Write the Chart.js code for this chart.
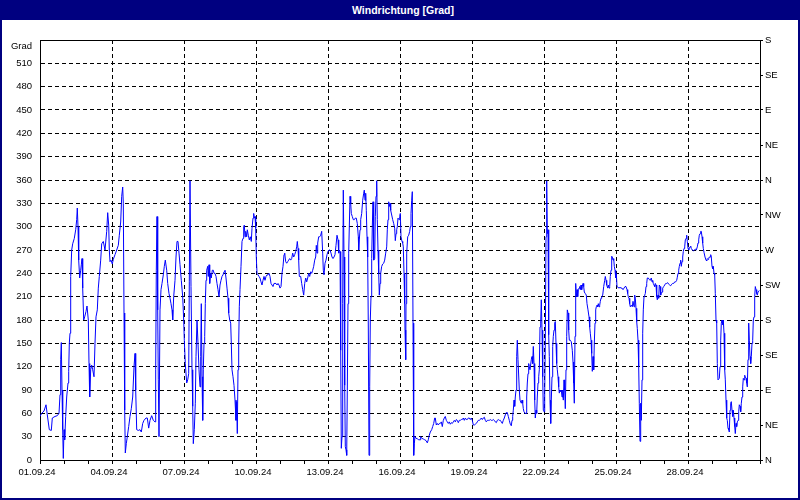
<!DOCTYPE html>
<html><head><meta charset="utf-8">
<script src="https://cdn.jsdelivr.net/npm/chart.js@4.4.1/dist/chart.umd.min.js"></script>
<style>
html,body{margin:0;padding:0;background:#fff;}
#wrap{position:relative;width:800px;height:500px;overflow:hidden;background:#fff;}
#title{position:absolute;left:0;top:0;width:800px;height:20px;box-sizing:border-box;padding-left:6px;background:#000080;color:#fff;font:bold 10.5px "Liberation Sans",Arial,sans-serif;text-align:center;line-height:20px;z-index:2;}
#frame{position:absolute;left:0;top:0;width:800px;height:500px;box-sizing:border-box;border:2px solid #000080;pointer-events:none;z-index:3;}
canvas{position:absolute;left:0;top:0;}
</style></head><body>
<div id="wrap"><canvas id="c" width="800" height="500"></canvas><div id="title">Windrichtung [Grad]</div><div id="frame"></div></div>
<script>
// hours since 01.09.24 00:00
const hours = [
0,1.7,4,6,7.3,9.3,11.3,12.3,15,17.3,
19,20,20.7,21.3,22,22.7,23.3,24,24.7,25.7,
26.7,28,28.7,29.3,30,30.7,31.7,32.7,34.3,35.7,
36.7,37.3,38,38.7,39.7,40.7,41.3,42,42.7,43.7,
44.7,46,47,48.3,49,49.7,50.7,51.7,52.7,54,
55,56,57.3,58.3,59.3,60.7,61.7,63.3,65,66.7,
67.7,68.7,69.3,70,71,72.3,73.3,75,76.7,78.3,
79.3,80.7,81.7,82.7,83.3,84,84.7,85.3,86.3,87.3,
88.7,90,91.3,92.7,94,95,95.7,96.7,98.3,100,
101.3,102.7,104,106,107.3,108.7,110,111.7,113.3,115,
115.7,116.3,117,117.7,118.3,119,120,121,122,123.3,
124.3,125.3,126.7,127.7,129,130,131,132,132.7,133.7,
135,136,137,138,139,140,141.3,142.7,143.7,144.3,
145.3,146.7,147.7,148.7,149.3,150,151,152,152.7,153.3,
154.3,155.3,156,157,158,159,160,
160.7,161.3,162,162.7,163.3,164,164.7,165.3,166,166.7,
167.7,168.3,169,169.7,170.7,171.3,172.3,173.3,174,175,
176,177,178,179,180,181,182,183,184,185,
186,187,188,188.7,189.7,190.7,191.3,192,193,194,
195,196,196.7,197.3,198,198.7,199.3,200,201,202,
203,203.7,204.3,205,205.7,206.7,207.3,208.3,209.3,210.3,
211.3,212,213,213.7,214.3,215,215.7,216.3,217,218,
219,220,221,222,223,224,225,226,227,228,
229,230,231,232,233,234,235,236,237,238,
239,240,241,242,243,244,244.7,245.7,246.7,247.7,
248.7,249.7,250.7,251.7,252.7,253.7,254.7,255.7,256.7,257.3,
258,258.7,259.3,
260.7,261.7,262.7,263.7,264.7,265.7,266.7,267.7,268.7,269.7,
270.7,271.7,272.7,273.7,274.7,275.7,276.3,277,277.7,278.7,
279.7,280.7,281.7,282.7,283.3,284,285,286,287,288,
289,290,291,292,293,294,295,296,297,298,
298.7,299.3,300,300.7,301.3,302,302.7,303.3,304,304.7,
305.3,306,306.7,307.3,308,308.7,309.3,310,310.7,311.3,
312.3,313.3,314.3,315.3,316.3,317.3,318.3,318.7,319.3,320,
320.7,321.7,322.7,323.7,324.3,325,325.7,326.3,327,327.7,
328.3,329,329.7,330.3,331,331.7,332.3,333,333.7,334.7,
335.3,336,336.7,337.3,338,338.7,339.3,340,340.7,341.7,
342.7,343.7,344.7,345.7,346.7,347.3,348,348.7,349.3,350,
350.7,351.7,352.7,353.7,354.7,355.3,356,356.7,357.3,358,
359,359.7,360.3,361,362,362.7,363.3,364,364.7,365,
365.7,366,366.7,367.7,368.7,369.7,370.3,371,371.7,372.3,
373,373.7,374.3,375,376,376.7,377.7,378.7,380,
380.7,381.7,383.3,384.7,386,387.3,388.3,389.3,390.3,391.7,
392.7,393.7,394.7,395.3,396.3,397.3,398.3,399.3,400.3,401.3,
402.3,403.3,404.3,405.3,406.3,407.3,408.3,409.3,410.3,411.3,
412.3,413.3,414.3,415.3,416.3,417.3,418.3,419.3,420.3,421.3,
422.3,423.3,424.3,425.3,426.3,427.3,428.3,429.3,430.3,431.3,
432.3,433.3,434.3,435.3,436.3,437.3,438.3,439.3,440.3,441.3,
442.3,443.3,444.3,445.3,446.3,447.3,448.3,449.3,450.3,451.3,
452.3,453.3,454.3,455.3,456.3,457.3,458.3,459.3,460.3,461.3,
462.3,463.3,464.3,465.3,466.3,467.3,468.3,469.3,470.3,471.3,
472,472.7,473.3,474,474.7,475.3,476,476.7,477.3,478,
478.7,479.3,480,480.7,481.3,482,482.7,483.3,484,485,
486,486.7,487.3,488,488.7,489.3,490,490.7,491.3,492,
492.7,493.3,494,494.7,495.3,496,496.7,497.3,498,498.7,
499.3,500,500.7,501.3,502,502.7,503.3,504,504.7,505.3,
506,506.7,507.3,508,508.7,509.3,510,510.7,511.3,512,
512.7,513.3,514,514.7,515.3,516,516.7,517.3,518,518.7,
519.3,520,
520.7,521.3,522,522.7,523.3,524,524.7,525.3,526,526.7,
527.3,528,528.7,529.3,530.3,531.3,532.3,533,533.7,534.3,
535,535.7,536.3,537,537.7,538.3,539,539.7,540.3,541,
541.7,542.3,543,543.7,544.3,545.3,546.3,547,548,549,
549.7,550.3,551,551.7,552.3,553,553.7,554.3,555,555.7,
556.3,557,557.7,558.3,559,559.7,560.3,561,561.7,562.7,
563.7,564.7,565.3,566,566.7,567.7,568.3,569,569.7,570.3,
571,571.7,572.3,573,573.7,574.3,575,575.7,576.3,577,
578,579,580,581,582,583,584,585,586,587,
587.7,588.3,589,589.7,590.3,591.3,592.3,593,594,594.7,
595.3,596,596.7,597.3,598,598.7,599.3,600,
600.7,601.3,602,602.7,603.3,604,604.7,605.3,606,606.7,
607.3,608.3,609.3,610.3,611.3,612,612.7,613.3,614,614.7,
615.3,616,616.7,617.3,618,618.7,619.3,620,620.7,621.3,
622,622.7,623.7,624.7,625.7,626.7,627.7,628.7,629.7,630.7,
631.7,632.7,633.7,634.7,635.7,636.7,637.3,638,638.7,639.3,
640,640.7,641.3,642,642.7,643.3,644,644.7,645.3,646,
646.7,647.3,648,648.7,649.3,650,650.7,651.3,652.3,653.3,
654.3,655.3,656.3,657.3,658,658.7,659.3,660,660.7,661.3,
662,662.7,663.3,664,665,666,666.7,667.3,668,668.7,
669.3,670,670.7,671.3,672,672.7,673.3,674,674.7,675.3,
676,676.7,677.3,678,678.7,679.3,680,680.7,681.3,682,
682.7,683.3,684,684.7,685.3,686,686.7,687.3,688,688.7,
689.3,690,690.7,691.3,692,692.7,693.3,694,694.7,695.3,
696,696.7,697.3,698,698.7,699.3,700,700.7,701.3,702,
702.7,703.3,704,704.7,705.3,706,706.7,707.3,708,708.7,
709.3,710,710.7,711.3,712,712.7,713.3,714,714.7,715.3,
716,716.7,717.3,718,718.7,719.3
];
// wind direction in degrees
const directions = [
56,60,63,71,58,39,38,54,56,57,
60,84,129,151,90,39,2,39,26,56,
81,99,114,150,163,236,270,278,285,296,
309,324,300,257,234,244,251,259,221,180,
184,191,198,180,124,81,116,122,116,107,
150,184,193,221,236,257,278,281,270,294,
318,302,270,255,257,252,258,264,270,276,
289,306,339,351,330,189,64,9,21,30,
43,56,66,81,120,137,90,39,38,39,
36,47,51,54,54,41,51,57,51,49,
116,244,313,193,103,30,193,219,227,238,
249,257,244,227,214,208,201,193,180,210,
231,261,281,281,266,251,231,210,180,154,
124,99,103,111,229,359,223,116,69,21,
39,73,133,180,150,116,94,
133,201,107,51,116,150,159,201,231,244,
249,236,251,227,240,234,244,244,240,240,
236,227,219,210,225,231,236,238,242,244,
234,221,208,189,180,176,150,116,107,96,
77,51,75,34,116,150,197,219,249,281,
285,300,302,287,294,287,296,289,283,287,
281,298,311,317,311,313,298,261,240,238,
236,234,229,225,231,236,231,236,238,238,
240,236,227,225,223,227,227,227,225,227,
225,221,223,240,249,264,266,255,253,255,
257,259,257,259,266,261,264,268,274,281,
272,257,236,
236,227,219,212,227,234,229,234,240,236,
242,240,244,249,257,261,276,266,279,287,
287,289,294,266,244,238,253,257,264,268,
270,270,266,261,259,261,264,276,289,283,
266,270,268,141,15,30,201,347,261,96,
17,13,6,90,201,266,300,339,330,317,
313,309,309,311,311,304,287,270,283,296,
309,317,334,343,347,334,343,321,287,261,
171,6,94,180,210,259,300,332,257,259,
313,339,359,309,270,240,212,227,240,249,
252,253,257,266,274,296,309,332,326,330,
321,315,309,304,298,282,291,296,300,311,
309,313,317,287,281,279,274,240,201,167,
129,201,266,287,289,294,300,317,334,345,
176,6,21,30,28,28,27,26,26,
30,28,27,26,25,22,26,32,36,39,
43,47,54,54,45,47,45,47,47,49,
43,51,54,56,51,49,47,49,46,48,
47,49,51,49,52,51,48,51,51,52,
52,54,51,54,52,52,54,54,52,54,
51,45,45,46,47,49,51,51,52,54,
52,54,55,51,49,51,51,51,52,51,
51,52,51,49,48,51,52,51,51,49,
47,51,54,58,61,61,56,51,46,44,
51,56,64,77,69,81,90,133,154,129,
129,90,77,77,73,77,73,66,62,60,
60,81,99,111,124,120,116,116,129,133,
124,146,124,77,54,64,60,81,99,107,
116,171,176,206,167,107,64,62,86,150,
287,359,291,296,161,133,77,47,77,107,
146,159,167,176,178,150,124,116,107,94,
86,90,
88,90,81,90,77,103,90,66,116,159,
193,189,167,154,154,152,141,126,99,73,
159,227,210,219,210,219,221,223,219,225,
219,223,227,223,216,214,212,201,193,184,
171,163,154,137,114,133,116,150,176,193,
197,199,197,201,197,199,204,208,210,212,
223,231,236,231,225,221,225,221,223,236,
244,262,261,257,259,249,244,234,240,223,
222,221,222,221,221,219,221,223,223,219,
214,210,208,201,197,199,197,204,197,212,
208,195,178,169,154,120,73,24,
73,51,103,163,193,210,212,214,223,227,
234,234,232,231,234,229,231,227,225,223,
227,225,210,206,212,208,225,223,212,214,
216,221,223,225,227,227,228,226,225,224,
226,227,227,229,229,231,235,240,244,249,
253,257,249,255,261,268,272,274,283,285,
289,281,272,270,272,274,275,272,270,269,
270,271,270,274,279,283,289,291,294,294,
287,279,272,267,261,257,256,259,258,259,
261,261,264,261,249,246,249,240,238,214,
180,176,124,103,103,105,120,154,176,180,
174,180,163,116,103,77,54,51,41,39,
36,64,73,75,64,56,64,54,43,34,
47,43,49,51,62,71,69,62,73,81,
94,105,103,109,107,105,99,94,129,176,
154,133,124,133,150,154,180,184,210,223,
219,214,212,216,216,218
];
const dayTicks = [0,24,48,72,96,120,144,168,192,216,240,264,288,312,336,360,384,408,432,456,480,504,528,552,576,600,624,648,672,696,720];
const dateLabels = ['01.09.24','04.09.24','07.09.24','10.09.24','13.09.24','16.09.24','19.09.24','22.09.24','25.09.24','28.09.24'];
const gradTicks = [0,30,60,90,120,150,180,210,240,270,300,330,360,390,420,450,480,510,540];
const compassTicks = [0,45,90,135,180,225,270,315,360,405,450,495,540];
const compassLabels = ['N','NE','E','SE','S','SW','W','NW','N','NE','E','SE','S'];
const unitLabel = 'Grad';

const FONTFAM = '"Liberation Sans", Arial, sans-serif';
const FONT = {family: FONTFAM, size: 9.5};

const frameTop = {
  id: 'frameTop',
  afterDraw(chart) {
    const {ctx, chartArea: a} = chart;
    ctx.save();
    ctx.strokeStyle = '#000';
    ctx.lineWidth = 1;
    ctx.beginPath();
    ctx.moveTo(a.left, Math.round(a.top) + 0.5);
    ctx.lineTo(a.right + 1, Math.round(a.top) + 0.5);
    ctx.stroke();
    ctx.font = '9.5px ' + FONTFAM;
    ctx.fillStyle = '#000';
    ctx.textAlign = 'right';
    ctx.textBaseline = 'middle';
    ctx.fillText(unitLabel, a.left - 8, a.top + 6);
    ctx.restore();
  }
};

const n = Math.min(hours.length, directions.length);
const points = [];
for (let i = 0; i < n; i++) points.push({x: hours[i], y: directions[i]});

new Chart(document.getElementById('c').getContext('2d'), {
  type: 'line',
  data: {datasets: [{data: points, borderColor: '#0000ff', borderWidth: 1, pointRadius: 0, tension: 0, fill: false}]},
  options: {
    responsive: false, animation: false, devicePixelRatio: 1,
    layout: {padding: {top: 40, left: 0, right: 0, bottom: 0}},
    plugins: {legend: {display: false}, tooltip: {enabled: false}, title: {display: false}},
    scales: {
      x: {
        type: 'linear', min: 0, max: 720,
        afterFit(s) { s.height = 40; },
        afterBuildTicks(s) { s.ticks = dayTicks.map(v => ({value: v})); },
        grid: {
          color: c => (c.tick && c.tick.value % 72 === 0 && c.tick.value > 0 && c.tick.value < 720) ? '#000' : 'rgba(0,0,0,0)',
          lineWidth: 1, drawTicks: true, tickLength: 4, tickColor: '#000', tickWidth: 1
        },
        border: {display: true, color: '#000', width: 1, dash: [4, 3]},
        ticks: {
          autoSkip: false, maxRotation: 0, minRotation: 0, padding: 3, labelOffset: -3, color: '#000', font: FONT,
          callback: v => (v % 72 === 0 && v < 720) ? dateLabels[v / 72] : ''
        }
      },
      y: {
        position: 'left', min: 0, max: 540,
        afterFit(s) { s.width = 40; },
        afterBuildTicks(s) { s.ticks = gradTicks.map(v => ({value: v})); },
        grid: {
          color: c => (c.tick && c.tick.value > 0 && c.tick.value < 540) ? '#000' : 'rgba(0,0,0,0)',
          lineWidth: 1, drawTicks: false
        },
        border: {display: true, color: '#000', width: 1, dash: [4, 3]},
        ticks: {padding: 8, color: '#000', font: FONT, callback: v => v === 540 ? '' : String(v)}
      },
      y2: {
        position: 'right', min: 0, max: 540,
        afterFit(s) { s.width = 40; },
        afterBuildTicks(s) { s.ticks = compassTicks.map(v => ({value: v})); },
        grid: {drawOnChartArea: false, drawTicks: true, tickLength: 3, tickColor: '#000', color: '#000'},
        border: {display: true, color: '#000', width: 1},
        ticks: {padding: 2, color: '#000', font: FONT, callback: v => compassLabels[Math.round(v / 45)]}
      }
    }
  },
  plugins: [frameTop]
});
</script>
</body></html>
